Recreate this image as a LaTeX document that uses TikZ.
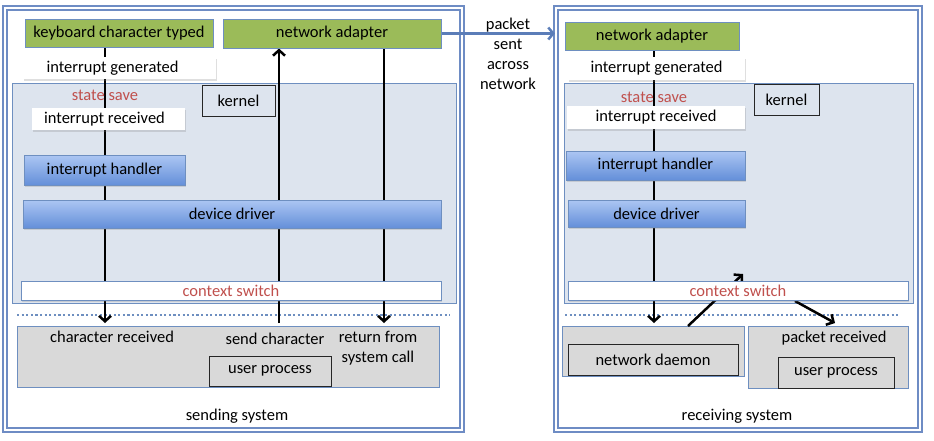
\documentclass[tikz,border=0pt]{standalone}
\usepackage{fontspec}
\setmainfont{Carlito}
\definecolor{os_green}{RGB}{155, 187, 89}
\definecolor{os_edge}{RGB}{110, 143, 192}
\definecolor{os_kernel}{RGB}{221, 228, 238}
\definecolor{os_bluetop}{RGB}{172, 198, 243}
\definecolor{os_bluebot}{RGB}{100, 143, 217}
\definecolor{os_gray}{RGB}{217, 217, 217}
\definecolor{os_red}{RGB}{192, 80, 77}
\definecolor{os_frame}{RGB}{110, 140, 196}
\definecolor{os_link}{RGB}{91, 125, 184}
\usetikzlibrary{arrows.meta, shadows}
\pgfdeclarelayer{back}
\pgfdeclarelayer{mid}
\pgfsetlayers{back,mid,main}

\tikzset{
  dims/.style 2 args={minimum width=#1pt, minimum height=#2pt, inner sep=0pt},
  soft/.style={drop shadow={opacity=0.25, shadow xshift=1pt, shadow yshift=-1.5pt}},
  greenbox/.style={fill=os_green, draw=os_edge, line width=1pt},
  bluebox/.style={top color=os_bluetop, bottom color=os_bluebot, draw=os_edge, line width=1pt, soft},
  whitebox/.style={fill=white, soft},
  area/.style={fill=os_kernel, draw=os_edge, line width=0.8pt},
  grayarea/.style={fill=os_gray, draw=os_edge, line width=0.8pt},
  tagbox/.style={draw=black!85, line width=1pt},
  frame/.style={draw=os_frame, line width=2.2pt, double=white, double distance=1.4pt},
  redtext/.style={text=os_red},
  flow/.style={black, line width=2.5pt, -{Straight Barb[length=5.5pt, width=12pt]}},
  dotline/.style={os_edge, line width=2.4pt, dash pattern=on 2.2pt off 2.4pt}
}

\begin{document}
\begin{tikzpicture}[x=1pt, y=-1pt, font=\fontsize{16.5}{20}\selectfont]
  \useasboundingbox (0,0) rectangle (934,440);
  % Cadres et zones
  \begin{pgfonlayer}{back}
    \node[frame, dims={457}{422}] (sendsys) at (233.5,219) {};
    \node[frame, dims={364}{422}] (recvsys) at (738,219) {};
    \node[area, dims={444}{220}] (kernL) at (234,193) {};
    \node[area, dims={349}{220}] (kernR) at (738.5,193) {};
    \node[grayarea, dims={422}{61}] (userL) at (228,356.5) {};
    \node[grayarea, dims={182}{50}] (daemonzone) at (653,351) {};
    \node[grayarea, dims={160}{62}] (pktzone) at (828,357) {};
  \end{pgfonlayer}

  % Système émetteur
  \node[greenbox, dims={188}{28}] (kbd) at (119,33) {keyboard character typed};
  \node[greenbox, dims={218}{29}] (netL) at (332,33.5) {network adapter};
  \node[whitebox, dims={193}{22}] (genL) at (119.5,68) {\hspace*{-14pt}interrupt generated};
  \node[redtext] (saveL) at (105,95) {state save};
  \node[tagbox, dims={73}{31}] (kernelL) at (238.5,100.5) {kernel};
  \node[whitebox, dims={153}{22}] (recvL) at (108.5,119) {\hspace*{-8pt}interrupt received};
  \node[bluebox, dims={161}{30}] (handL) at (104.5,170) {interrupt handler};
  \node[bluebox, dims={418}{28}] (drvL) at (232,214) {device driver};
  \node[whitebox, draw=os_edge, dims={420}{19}, redtext] (ctxL) at (231,290.5) {context switch};
  \node (charL) at (112,337) {character received};
  \node (sendL) at (275,339) {send character};
  \node[align=center] (retL) at (378,348) {return from\\system call};
  \node[tagbox, fill=os_gray, dims={122}{30}] (upL) at (270,371) {user process};
  \node (sendlbl) at (237,416) {sending system};

  % Système récepteur
  \node[greenbox, dims={174}{28}] (netR) at (652,36) {network adapter};
  \node[whitebox, dims={177}{23}] (genR) at (656.5,68.5) {interrupt generated};
  \node[redtext] (saveR) at (654,97) {state save};
  \node[tagbox, dims={65}{31}] (kernelR) at (786.5,99.5) {kernel};
  \node[whitebox, dims={178}{23}] (recvR) at (656,117.5) {interrupt received};
  \node[bluebox, dims={179}{29}] (handR) at (655.5,165.5) {interrupt handler};
  \node[bluebox, dims={177}{27}] (drvR) at (656.5,213.5) {device driver};
  \node[whitebox, draw=os_edge, dims={340}{19}, redtext] (ctxR) at (738,290.5) {context switch};
  \node[tagbox, fill=os_gray, dims={170}{31}] (daemonR) at (653,359.5) {network daemon};
  \node (pktR) at (834,338) {packet received};
  \node[tagbox, fill=os_gray, dims={116}{31}] (upR) at (836,372.5) {user process};
  \node (recvlbl) at (737,416) {receiving system};

  % Paquet
  \draw[os_link, line width=2.5pt, -{Straight Barb[length=5pt, width=12pt]}]
    (netL.east) -- (netL.east -| recvsys.west);
  \node[align=center] (packet) at (508,54) {packet\\sent\\across\\network};

  % Flèches
  \begin{pgfonlayer}{mid}
    \draw[dotline] (17,315) -- (450,315);
    \draw[dotline] (565,315) -- (898,315);
    \coordinate (downA) at (105,323);
    \coordinate (upB) at (279,323);
    \coordinate (downC) at (384,323);
    \coordinate (downD) at (654,323);
    \coordinate (riseE) at (743,274);
    \coordinate (startE) at (688,326);
    \coordinate (startF) at (795,301);
    \coordinate (endF) at (835,323);
    \draw[flow] (kbd.south -| downA) -- (downA);
    \draw[flow] (upB) -- (netL.south -| upB);
    \draw[flow] (netL.south -| downC) -- (downC);
    \draw[flow] (netR.south -| downD) -- (downD);
    \draw[flow] (startE) -- (riseE);
    \draw[flow] (startF) -- (endF);
  \end{pgfonlayer}
\end{tikzpicture}
\end{document}
